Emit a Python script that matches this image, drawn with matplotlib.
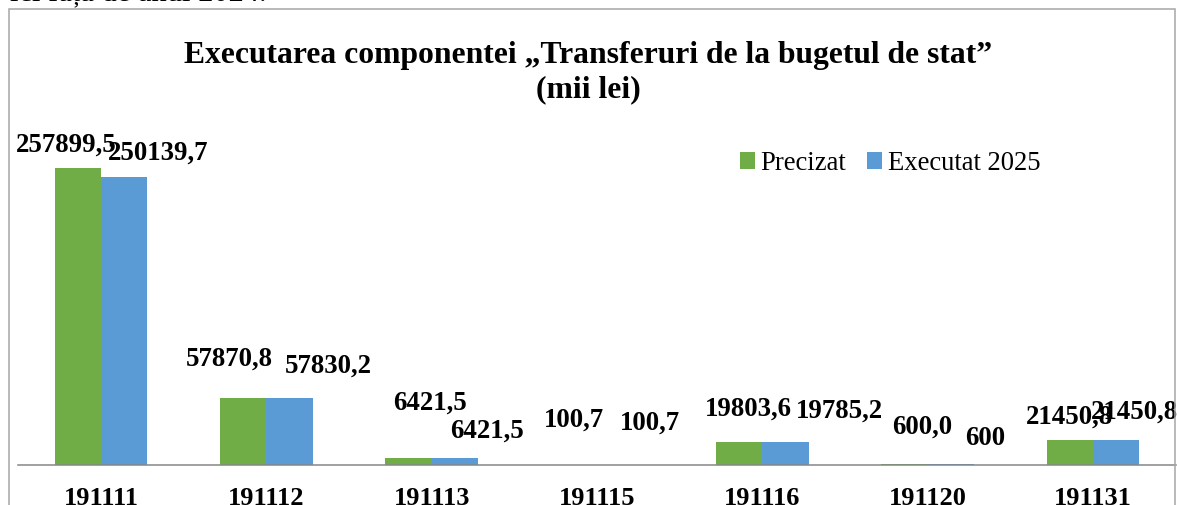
import numpy as np
import matplotlib
matplotlib.use("Agg")
import matplotlib.pyplot as plt
from matplotlib.patches import Rectangle

plt.rcParams['font.family'] = ['Liberation Serif', 'DejaVu Serif']

# data
categories = ['191111', '191112', '191113', '191115', '191116', '191120', '191131']
precizat = [257899.5, 57870.8, 6421.5, 100.7, 19803.6, 600.0, 21450.8]
executat = [250139.7, 57830.2, 6421.5, 100.7, 19785.2, 600.0, 21450.8]
precizat_labels = ['257899,5', '57870,8', '6421,5', '100,7', '19803,6', '600,0', '21450,8']
executat_labels = ['250139,7', '57830,2', '6421,5', '100,7', '19785,2', '600', '21450,8']

# label placement (pixel offsets from bar top, as moved by hand in the original)
precizat_offsets = [(-11, 17), (-14, 34), (22, 49), (0, 39), (9, 28), (18, 32), (0, 18)]
executat_offsets = [(34, 18), (39, 27), (32, 21), (30, 36), (54, 26), (34, 20), (18, 23)]

GREEN = '#70AD47'
BLUE = '#5B9BD5'
W, H = 1177, 506

fig = plt.figure(figsize=(W / 100, H / 100), dpi=100)

# chart border (bottom is cut off in the original)
fig.patches.append(Rectangle((9 / W, -0.1), (1175 - 9) / W, 1.1 - 10 / H,
                             transform=fig.transFigure, fill=False,
                             edgecolor='#a6a6a6', linewidth=1.1))

# text from the page above the chart, mostly cut off
fig.text(10 / W, 1 - 1 / H, 'ici fața de anul 2024.', fontsize=22,
         ha='left', va='baseline')

ax = fig.add_axes([18.3 / W, 40 / H, (1175.7 - 18.3) / W, 345.6 / H])
x = np.arange(len(categories))
w = 0.281
ax.bar(x - w / 2, precizat, w, color=GREEN, label='Precizat')
ax.bar(x + w / 2, executat, w, color=BLUE, label='Executat 2025')

for i in range(len(categories)):
    dx, dy = precizat_offsets[i]
    ax.annotate(precizat_labels[i], (x[i] - w / 2, precizat[i]), xytext=(dx, dy),
                textcoords='offset pixels', ha='center', va='baseline',
                fontsize=19.4, fontweight='bold')
    dx, dy = executat_offsets[i]
    ax.annotate(executat_labels[i], (x[i] + w / 2, executat[i]), xytext=(dx, dy),
                textcoords='offset pixels', ha='center', va='baseline',
                fontsize=19.4, fontweight='bold')

ax.set_xlim(-0.5, len(categories) - 0.5)
ax.set_ylim(0, 300000)
ax.set_xticks(x)
ax.set_xticklabels(categories, fontsize=19, fontweight='bold')
ax.tick_params(axis='x', length=0, pad=15)
ax.set_yticks([])
for side in ['top', 'left', 'right']:
    ax.spines[side].set_visible(False)
ax.spines['bottom'].set_color('#868686')
ax.spines['bottom'].set_linewidth(1.1)
ax.patch.set_alpha(0)

fig.text(588.5 / W, 1 - 63 / H, 'Executarea componentei „Transferuri de la bugetul de stat”',
         fontsize=22.8, fontweight='bold', ha='center', va='baseline')
fig.text(588.5 / W, 1 - 97 / H, '(mii lei)',
         fontsize=22.8, fontweight='bold', ha='center', va='baseline')

ax.legend(loc='center left', bbox_to_anchor=(740 / W, 1 - 164 / H),
          bbox_transform=fig.transFigure, ncol=2, frameon=False,
          fontsize=19.2, handlelength=0.56, handleheight=0.6,
          handletextpad=0.2, columnspacing=0.8, borderpad=0, borderaxespad=0)

plt.savefig('out.png', dpi=100)
